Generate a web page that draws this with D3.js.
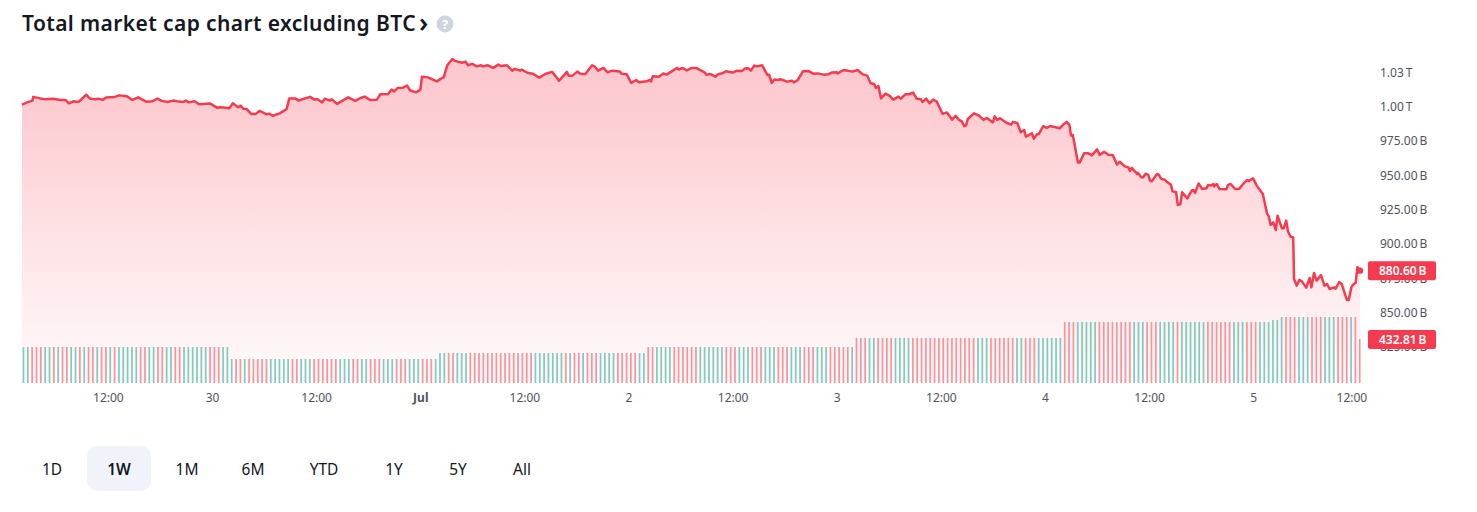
<!DOCTYPE html>
<html><head><meta charset="utf-8">
<script src="https://cdn.jsdelivr.net/npm/d3@7"></script>
<style>
html,body{margin:0;padding:0;background:#fff;overflow:hidden}
svg{display:block}
text{font-family:"Noto Sans",sans-serif}
</style></head><body><svg id="c" width="1477" height="512"></svg>
<script>
const titleText = "Total market cap chart excluding BTC";
const rangeLabels = ["1D","1W","1M","6M","YTD","1Y","5Y","All"];
const priceTicks = [825,850,875,900,925,950,975,1000,1025];
const timeTickHours = [9.9,21.9,33.9,45.9,57.9,69.9,81.9,93.9,105.9,117.9,129.9,141.9,153.9];
const timeTickLabels = ["12:00","30","12:00","Jul","12:00","2","12:00","3","12:00","4","12:00","5","12:00"];
const hours = [
0,0.6,1.2,1.3,2.1,2.7,3.6,4.4,5.0,5.4,
5.9,6.5,6.9,7.4,7.8,8.4,8.8,9.3,9.7,10.7,
11.2,12.1,12.7,13.4,14.3,15.0,15.6,16.1,16.8,17.4,
17.9,18.6,18.9,19.2,19.9,20.4,21.7,22.5,22.7,23.2,
23.9,24.3,24.9,25.2,25.5,25.9,26.4,26.9,27.4,28.2,
28.5,28.9,29.7,30.5,30.8,31.5,31.9,32.4,33.2,33.7,
34.0,34.6,34.9,35.5,35.7,36.3,37.0,37.6,38.4,39.0,
39.5,40.1,40.9,41.3,42.2,42.6,42.9,43.3,43.9,44.4,
44.7,45.4,45.9,46.1,46.8,47.8,48.4,48.6,49.0,49.6,
49.9,50.7,51.1,51.4,51.9,52.4,52.9,53.1,53.7,54.3,
54.9,55.2,55.9,56.5,56.8,57.4,57.6,58.3,58.9,59.6,
60.3,61.1,61.9,62.8,63.0,63.4,64.0,64.3,64.9,65.7,
66.0,66.4,67.0,67.5,68.0,68.9,69.1,69.7,70.2,70.8,
71.1,72.0,72.3,72.5,72.7,73.4,73.9,74.3,75.5,75.7,
76.1,76.6,77.2,77.7,78.7,78.9,79.3,79.9,80.2,80.8,
81.1,81.9,82.4,83.0,83.3,83.7,84.0,84.4,84.7,85.3,
85.9,86.1,86.4,86.7,87.1,87.4,88.2,88.7,89.0,89.4,
90.0,90.6,91.2,91.7,92.4,92.9,93.3,93.9,94.0,94.7,
95.7,96.3,96.9,97.4,97.8,98.2,98.4,98.7,99.0,99.5,
100.0,100.4,101.0,101.3,101.8,102.2,102.7,103.1,103.6,103.8,
104.2,104.6,105.0,105.4,106.1,106.6,107.2,107.6,108.0,108.3,
108.6,108.8,109.0,109.7,110.3,110.8,111.2,111.7,111.9,112.1,
112.4,112.7,113.5,114.0,114.2,114.7,115.1,115.5,115.7,116.4,
116.6,117.0,117.2,117.7,118.1,118.5,119.6,120.0,120.4,120.7,
120.9,121.1,121.7,121.9,122.4,122.9,123.3,123.9,124.2,124.7,
125.2,125.7,126.0,126.2,126.5,127.1,127.5,127.7,127.9,128.5,
128.6,129.0,129.2,129.5,129.8,130.0,130.2,130.8,131.0,131.3,
131.7,132.0,132.4,132.6,133.0,133.2,133.5,133.7,134.3,134.8,
135.0,135.2,135.6,136.0,136.5,136.7,137.0,137.3,137.4,137.7,
138.0,138.8,139.0,139.3,139.8,140.3,140.9,141.2,141.4,141.8,
141.9,142.3,143.0,143.5,143.7,143.9,144.2,144.5,144.7,145.2,
145.4,145.7,145.9,146.2,146.5,146.6,146.9,147.2,147.5,148.0,
148.4,148.6,148.9,149.2,149.7,150.1,150.4,150.7,151.2,151.4,
151.8,152.1,152.3,152.7,152.9,153.2,153.4,153.7,153.9,154.2];
const marketCapB = [
1001.5,1003.1,1004.4,1007.1,1006.0,1005.3,1005.8,1004.9,1004.9,1002.4,
1003.9,1003.4,1005.6,1008.7,1006.0,1005.3,1005.8,1004.9,1006.6,1007.1,
1008.2,1007.5,1004.9,1006.8,1003.6,1003.9,1005.8,1004.2,1003.4,1004.4,
1003.9,1003.4,1004.4,1003.1,1003.9,1001.7,1002.2,999.1,999.5,999.3,
998.8,1002.4,999.5,1000.7,998.5,998.3,994.7,994.7,996.9,994.4,
994.9,993.4,995.1,998.3,1006.0,1006.0,1004.4,1005.6,1007.1,1005.1,
1005.6,1003.1,1005.8,1004.4,1005.3,1002.0,1004.6,1006.8,1004.2,1006.3,
1007.3,1004.9,1005.1,1009.0,1009.2,1012.4,1011.1,1013.6,1013.8,1015.3,
1011.9,1010.4,1012.2,1021.8,1021.3,1018.4,1020.9,1021.3,1029.9,1034.7,
1033.3,1032.0,1032.8,1030.1,1031.1,1029.3,1030.1,1029.3,1030.1,1028.2,
1030.6,1029.6,1030.1,1026.2,1027.5,1026.2,1026.9,1024.5,1024.0,1021.1,
1023.8,1025.3,1018.9,1025.3,1022.4,1022.4,1025.5,1024.2,1023.5,1030.1,
1029.1,1026.2,1028.2,1025.0,1026.2,1025.5,1024.0,1023.5,1017.3,1019.4,
1017.7,1018.4,1019.4,1018.4,1022.1,1021.8,1024.2,1023.3,1028.2,1026.9,
1028.2,1026.4,1028.2,1028.2,1024.8,1023.1,1023.8,1021.8,1023.5,1024.5,
1025.7,1024.8,1026.2,1026.0,1027.7,1027.9,1026.2,1029.9,1029.3,1030.1,
1023.1,1023.3,1017.3,1019.7,1019.4,1019.9,1018.2,1018.9,1017.7,1019.4,
1025.7,1026.0,1024.0,1024.2,1023.3,1023.5,1024.8,1025.0,1024.2,1026.7,
1025.5,1026.7,1023.5,1022.6,1017.0,1016.5,1013.6,1015.1,1006.0,1009.5,
1007.8,1005.1,1007.3,1005.8,1009.0,1009.0,1010.2,1005.8,1005.3,1003.4,
1005.8,1002.4,1005.1,1003.9,994.7,995.8,990.5,993.4,990.3,989.3,
985.7,986.4,991.0,995.1,993.4,990.3,991.8,989.3,988.6,992.9,
990.3,991.5,988.1,986.9,988.9,988.1,981.3,983.0,978.2,980.6,
976.7,980.1,980.1,985.9,984.5,985.9,984.2,986.9,988.9,986.9,
978.9,979.4,959.4,959.4,966.0,966.0,964.5,968.9,964.8,967.2,
965.0,964.8,960.7,957.8,959.9,956.5,955.8,953.2,955.4,951.0,
951.9,948.5,948.5,951.2,950.3,946.1,945.6,951.0,950.5,947.4,
946.8,944.9,943.2,938.3,937.9,928.4,929.1,937.6,933.2,938.8,
939.3,937.2,944.1,940.1,940.5,943.0,942.5,943.7,942.0,943.7,
940.1,939.8,943.0,943.7,940.1,940.3,944.9,946.6,945.9,947.6,
947.6,942.5,936.4,921.9,919.9,913.9,915.7,910.2,920.6,911.4,
911.4,917.0,909.2,905.3,904.8,874.5,869.7,873.8,872.8,868.2,
875.3,868.4,878.9,873.3,877.4,869.7,870.9,867.2,868.4,867.5,
872.3,870.9,866.7,859.2,859.2,868.4,870.4,871.8,883.0,880.6];
const lastCapB = 880.60;
const lastVolumeB = 432.81;
const volumeLevelsB = [354,236,295,354,443,600,620,649,432.81];
const volumeLevelCounts = [48,48,48,48,48,48,2,18,1];
const barDirections = [
"ggrrrggrgr rggrgrrgrr grgggggrrg grrggrrggg gggrrrgggr rgrrrrrggg gg",
"rr ggg rrr rrr ggg rr gg rrr ggg rrr ggg rrr ggg rr ggg rrr rrr rrr rrr rrr gggg g",
"ggrgrrgrrr gggg rr rrr gg rr gg gg rrr rrr ggg ggg rrr ggg rrr ggg rrr ggg rrr gg",
"g rrr rr g rrr gg rrr r g ggg rrr rrr rrr rrrr rr ggg rrr rrr gg rrr ggg ggg rrr gggg",
"g rr rrr rrr ggg rrr ggg g r ggg ggg rrrr rr ggg rrr ggg ggg rrr ggg rrr ggg rrr g r"
].join("").replace(/ /g,"");

const svg = d3.select("#c");
const x = d3.scaleLinear().domain([0,154.2]).range([22,1360]);
const y = d3.scaleLinear().domain([825,1025]).range([347,72.3]);
const yVol = d3.scaleLinear().domain([0,649]).range([383,317]);

const pts = hours.map((h,i)=>({h,v:marketCapB[i]}));
const defs = svg.append("defs");
const grad = defs.append("linearGradient").attr("id","fade")
  .attr("gradientUnits","userSpaceOnUse").attr("x1",0).attr("x2",0).attr("y1",58).attr("y2",383);
grad.append("stop").attr("offset",0).attr("stop-color","#f63b4e").attr("stop-opacity",0.28);
grad.append("stop").attr("offset",0.15).attr("stop-color","#f63b4e").attr("stop-opacity",0.26);
grad.append("stop").attr("offset",1).attr("stop-color","#f63b4e").attr("stop-opacity",0.02);

svg.append("path").datum(pts).attr("fill","url(#fade)")
  .attr("d",d3.area().x(d=>x(d.h)).y0(383).y1(d=>y(d.v)));

// volume
const volumes = volumeLevelsB.flatMap((v,i)=>d3.range(volumeLevelCounts[i]).map(()=>v));
const barG = svg.append("g");
barG.selectAll("rect").data(volumes).join("rect")
  .attr("x",(d,i)=>x(0.17+i*0.5)-0.85).attr("width",1.7)
  .attr("y",d=>yVol(d)).attr("height",d=>yVol(0)-yVol(d))
  .attr("fill",(d,i)=>barDirections[i]==="g"?"#7fcbbd":"#f8939c");

svg.append("path").datum(pts).attr("fill","none").attr("stroke","#f63b4e")
  .attr("stroke-width",2.5).attr("stroke-linejoin","round")
  .attr("d",d3.line().x(d=>x(d.h)).y(d=>y(d.v)));
svg.append("circle").attr("cx",x(154.2)).attr("cy",y(lastCapB)).attr("r",3.2).attr("fill","#f63b4e");

// axes
const fmtPrice = v => v>=1000 ? (v/1000+1e-9).toFixed(2)+"\u2009T" : v.toFixed(2)+"\u2009B";
const yAxis = svg.append("g").attr("transform","translate(1371,0)")
  .call(d3.axisRight(y).tickValues(priceTicks).tickSize(0).tickPadding(9).tickFormat(fmtPrice));
yAxis.select(".domain").remove();
yAxis.selectAll("text").attr("font-size",12).attr("fill","#50535e").attr("font-family",'"Noto Sans",sans-serif');

const xAxis = svg.append("g").attr("transform","translate(0,383)")
  .call(d3.axisBottom(x).tickValues(timeTickHours).tickSize(0).tickPadding(10)
    .tickFormat((d,i)=>timeTickLabels[i]));
xAxis.select(".domain").remove();
xAxis.selectAll("text").attr("font-size",12).attr("fill","#50535e").attr("font-family",'"Noto Sans",sans-serif')
  .attr("font-weight",(d,i)=>timeTickLabels[i]==="Jul"?700:400)
  .attr("dx",(d,i)=>i===timeTickLabels.length-1?-6:0);

// last-value badges
const badges = [
  {cy:y(lastCapB),t:fmtPrice(lastCapB)},
  {cy:339.5,t:fmtPrice(lastVolumeB)}
];
const bg = svg.append("g").selectAll("g").data(badges).join("g");
bg.append("rect").attr("x",1368).attr("width",68).attr("y",d=>d.cy-9.5).attr("height",19).attr("rx",2).attr("fill","#f63b4e");
bg.append("text").attr("x",1379).attr("y",d=>d.cy+4.3).attr("font-size",12).attr("font-weight",600).attr("fill","#fff").text(d=>d.t);

// title
svg.append("text").attr("x",22).attr("y",31).attr("font-size",21).attr("font-weight",600).attr("letter-spacing",0.4).attr("fill","#131722").text(titleText);
svg.append("text").attr("x",419).attr("y",32).attr("font-size",27).attr("font-weight",600).attr("fill","#131722").text("\u203a");
svg.append("circle").attr("cx",445).attr("cy",24).attr("r",8.5).attr("fill","#d1d4dc");
svg.append("text").attr("x",445).attr("y",29).attr("text-anchor","middle").attr("font-size",13).attr("font-weight",700).attr("fill","#fff").text("?");

// range buttons
const btnX = d3.scaleOrdinal().domain(rangeLabels).range([52,119,187,253,324,394,458,522]);
svg.append("rect").attr("x",87).attr("y",446).attr("width",64).attr("height",45).attr("rx",10).attr("fill","#f0f3fa");
svg.append("g").selectAll("text").data(rangeLabels).join("text")
  .attr("x",d=>btnX(d)).attr("y",474.5).attr("text-anchor","middle").attr("font-size",15.5)
  .attr("font-weight",d=>d==="1W"?600:400).attr("fill","#131722").text(d=>d);
</script></body></html>
